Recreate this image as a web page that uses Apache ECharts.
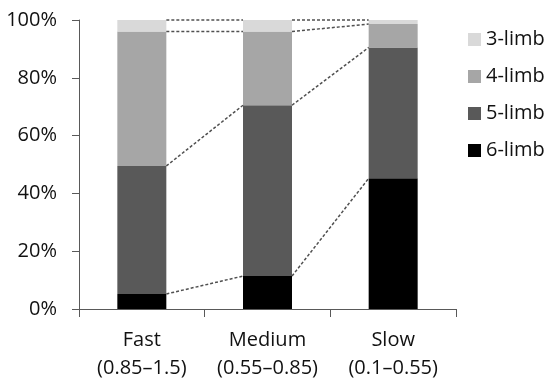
<!DOCTYPE html>
<html>
<head>
<meta charset="utf-8">
<script src="https://cdn.jsdelivr.net/npm/echarts@6/dist/echarts.min.js"></script>
<style>html,body{margin:0;padding:0;background:#fff;}#c{width:550px;height:387px;}</style>
</head>
<body>
<div id="c"></div>
<script>
const categories = ['Fast\n(0.85–1.5)', 'Medium\n(0.55–0.85)', 'Slow\n(0.1–0.55)'];
const limb6 = [5.2, 11.4, 45.2];
const limb5 = [44.3, 59.1, 45.3];
const limb4 = [46.5, 25.5, 8.1];
const limb3 = [4.0, 4.0, 1.4];
const yTicks = [0, 20, 40, 60, 80, 100];

const seriesDefs = [
  { name: '6-limb', data: limb6, color: '#000000' },
  { name: '5-limb', data: limb5, color: '#595959' },
  { name: '4-limb', data: limb4, color: '#a6a6a6' },
  { name: '3-limb', data: limb3, color: '#d9d9d9' }
];
const BAR_W = 49;
const FONT = '"Open Sans", "Noto Sans", sans-serif';

function cumulative(i) {
  let s = 0;
  return seriesDefs.map(d => (s += d.data[i]));
}

const chart = echarts.init(document.getElementById('c'), null, { renderer: 'canvas' });
const series = seriesDefs.map(d => ({
  name: d.name,
  type: 'bar',
  stack: 'total',
  barWidth: BAR_W,
  data: d.data,
  itemStyle: { color: d.color },
  emphasis: { disabled: true }
}));
series.push({
  type: 'custom',
  name: 'connectors',
  z: 5,
  silent: true,
  encode: { x: 0, y: 1 },
  data: categories.slice(0, -1).map((c, i) => [i, 0]),
  renderItem: function (params, api) {
    const i = api.value(0);
    const a = cumulative(i), b = cumulative(i + 1);
    const children = a.map((v, k) => {
      const p1 = api.coord([i, v]);
      const p2 = api.coord([i + 1, b[k]]);
      return {
        type: 'line',
        shape: { x1: p1[0] + BAR_W / 2, y1: p1[1], x2: p2[0] - BAR_W / 2, y2: p2[1] },
        style: { stroke: '#505050', lineWidth: 1.5, lineDash: [3, 2] }
      };
    });
    return { type: 'group', children: children };
  }
});

chart.setOption({
  animation: false,
  backgroundColor: '#ffffff',
  grid: { left: 79, right: 94, top: 20, bottom: 78, containLabel: false },
  legend: {
    data: ['3-limb', '4-limb', '5-limb', '6-limb'],
    orient: 'vertical',
    left: 463,
    top: 24,
    itemWidth: 13,
    itemHeight: 13,
    itemGap: 16,
    icon: 'rect',
    textStyle: { fontFamily: FONT, fontSize: 20, color: '#111111', lineHeight: 21, padding: [0, 0, 0, 0] }
  },
  xAxis: {
    type: 'category',
    data: categories,
    axisLine: { lineStyle: { color: '#595959', width: 1 } },
    axisTick: { show: true, length: 8, alignWithLabel: false, lineStyle: { color: '#595959' } },
    axisLabel: { fontFamily: FONT, fontSize: 20, color: '#111111', lineHeight: 28, margin: 17, interval: 0 }
  },
  yAxis: {
    type: 'value',
    min: yTicks[0],
    max: yTicks[yTicks.length - 1],
    interval: yTicks[1] - yTicks[0],
    splitLine: { show: false },
    axisLine: { show: true, lineStyle: { color: '#595959', width: 1 } },
    axisTick: { show: true, length: 7, lineStyle: { color: '#595959' } },
    axisLabel: { fontFamily: FONT, fontSize: 20, color: '#111111', margin: 22, formatter: '{value}%' }
  },
  series: series
});
</script>
</body>
</html>
